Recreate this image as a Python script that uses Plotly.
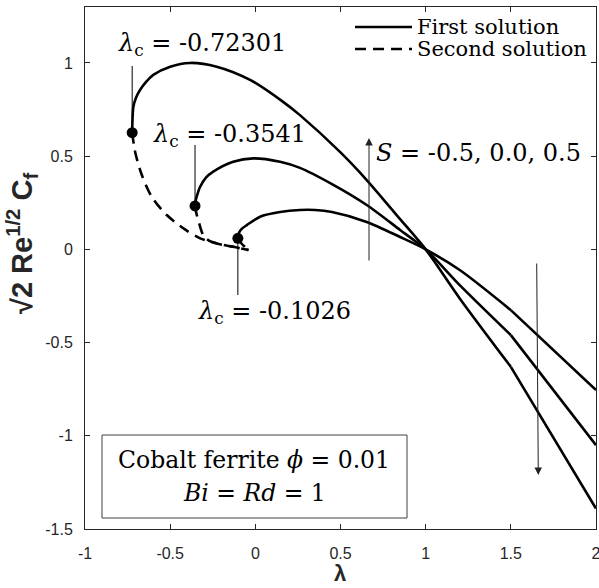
import plotly.graph_objects as go

# ---------------- data ----------------
# S = 0.5  (lambda_c = -0.72301)
lam_a1 = [-0.72301, -0.721, -0.716, -0.70, -0.677, -0.64, -0.599, -0.5, -0.383, -0.227,
          -0.031, 0.165, 0.262, 0.5, 0.654, 0.85, 1.0, 1.2, 1.5, 2.0]
cf_a1 = [0.626, 0.70, 0.765, 0.815, 0.855, 0.90, 0.936, 0.98, 1.0, 0.98,
         0.909, 0.79, 0.72, 0.52, 0.372, 0.162, 0.0, -0.263, -0.63, -1.39]
lam_a2 = [-0.72301, -0.706, -0.667, -0.608, -0.52, -0.413, -0.324, -0.22, -0.13, -0.04]
cf_a2 = [0.626, 0.524, 0.40, 0.282, 0.184, 0.107, 0.059, 0.03, 0.014, -0.004]

# S = 0.0  (lambda_c = -0.3541)
lam_b1 = [-0.3541, -0.348, -0.335, -0.324, -0.29, -0.247, -0.13, -0.012, 0.145, 0.262,
          0.45, 0.654, 0.85, 1.0, 1.2, 1.5, 2.0]
cf_b1 = [0.233, 0.27, 0.31, 0.336, 0.385, 0.417, 0.470, 0.488, 0.47, 0.437,
         0.35, 0.238, 0.104, 0.0, -0.192, -0.46, -1.05]
lam_b2 = [-0.3541, -0.345, -0.33, -0.305, -0.27, -0.22, -0.13, -0.04]
cf_b2 = [0.233, 0.19, 0.14, 0.075, 0.045, 0.03, 0.014, -0.004]

# S = -0.5 (lambda_c = -0.1026)
lam_c1 = [-0.1026, -0.095, -0.08, -0.05, 0.028, 0.145, 0.262, 0.35, 0.45, 0.654,
          0.85, 1.0, 1.2, 1.5, 2.0]
cf_c1 = [0.059, 0.09, 0.11, 0.13, 0.175, 0.20, 0.211, 0.211, 0.20, 0.147,
         0.066, 0.0, -0.111, -0.326, -0.755]
lam_c2 = [-0.1026, -0.08, -0.06, -0.04]
cf_c2 = [0.059, 0.03, 0.012, -0.004]

crit_lam = [-0.72301, -0.3541, -0.1026]
crit_cf = [0.626, 0.233, 0.059]
crit_labels = ["-0.72301", "-0.3541", "-0.1026"]

x_ticks = [-1, -0.5, 0, 0.5, 1, 1.5, 2]
x_ticklabels = ["-1", "-0.5", "0", "0.5", "1", "1.5", "2"]
y_ticks = [-1.5, -1, -0.5, 0, 0.5, 1]
y_ticklabels = ["-1.5", "-1", "-0.5", "0", "0.5", "1"]

# ---------------- layout helpers ----------------
W, H = 599, 588
ML, MR, MT, MB = 85, 3, 7, 59
PW, PH = W - ML - MR, H - MT - MB


def px(xp):
    return (xp - ML) / PW


def py(yp):
    return (H - MB - yp) / PH


def dxv(xp):
    return -1 + (xp - ML) / PW * 3


def dyv(yp):
    return 1.3 - (yp - MT) / PH * 2.8


SERIF = "DejaVu Serif"
SANS = "Liberation Sans"
AX = "#262626"
LW = 2.6
DASH = "11px,7px"

fig = go.Figure()


def add_first(lam, cf):
    # smooth part up to 1.5, straight segment afterwards
    k = lam.index(1.5)
    fig.add_trace(go.Scatter(x=lam[:k + 1], y=cf[:k + 1], mode="lines",
                             line=dict(color="black", width=LW, shape="spline", smoothing=0.8),
                             showlegend=False, hoverinfo="skip"))
    fig.add_trace(go.Scatter(x=lam[k:], y=cf[k:], mode="lines",
                             line=dict(color="black", width=LW),
                             showlegend=False, hoverinfo="skip"))


def add_second(lam, cf):
    fig.add_trace(go.Scatter(x=lam, y=cf, mode="lines",
                             line=dict(color="black", width=LW, dash=DASH, shape="spline", smoothing=0.8),
                             showlegend=False, hoverinfo="skip"))


for l1, c1, l2, c2 in [(lam_a1, cf_a1, lam_a2, cf_a2),
                       (lam_b1, cf_b1, lam_b2, cf_b2),
                       (lam_c1, cf_c1, lam_c2, cf_c2)]:
    add_second(l2, c2)
    add_first(l1, c1)

fig.add_trace(go.Scatter(x=crit_lam, y=crit_cf, mode="markers",
                         marker=dict(color="black", size=11),
                         showlegend=False, hoverinfo="skip"))

shapes = []
annotations = []

# leader lines from critical points to labels (end heights in pixels)
leader_end_px = [66, 145, 295]
for lc, cc, ye in zip(crit_lam, crit_cf, leader_end_px):
    shapes.append(dict(type="line", xref="x", yref="y", x0=lc, x1=lc, y0=cc,
                       y1=dyv(ye), line=dict(color="black", width=1)))

# lambda_c labels
label_pos = [(116, 44), (151, 135), (196, 312)]
for (lx, ly), txt in zip(label_pos, crit_labels):
    annotations.append(dict(xref="paper", yref="paper", x=px(lx), y=py(ly),
                            xanchor="left", yanchor="middle", showarrow=False,
                            text="<i>λ</i><sub>c</sub> = " + txt,
                            font=dict(family=SERIF, size=24, color="black")))

# S annotation and arrows
annotations.append(dict(xref="paper", yref="paper", x=px(374), y=py(153),
                        xanchor="left", yanchor="middle", showarrow=False,
                        text="<i>S</i> = -0.5, 0.0, 0.5",
                        font=dict(family=SERIF, size=24, color="black")))

for (x0, y0, x1, y1) in [(369, 262, 369, 138), (536.7, 262, 538.3, 475)]:
    annotations.append(dict(xref="x", yref="y", axref="x", ayref="y",
                            x=dxv(x1), y=dyv(y1), ax=dxv(x0), ay=dyv(y0),
                            text="", showarrow=True, arrowhead=2, arrowsize=1.5,
                            arrowwidth=1, arrowcolor="#222222", standoff=0))

# manual legend
shapes.append(dict(type="line", xref="paper", yref="paper", x0=px(355), x1=px(412),
                   y0=py(27), y1=py(27), line=dict(color="black", width=LW)))
shapes.append(dict(type="line", xref="paper", yref="paper", x0=px(355), x1=px(412),
                   y0=py(49), y1=py(49), line=dict(color="black", width=LW, dash=DASH)))
for txt, yy in [("First solution", 27), ("Second solution", 49)]:
    annotations.append(dict(xref="paper", yref="paper", x=px(415), y=py(yy),
                            xanchor="left", yanchor="middle", showarrow=False, text=txt,
                            font=dict(family=SERIF, size=21, color="black")))

# text box
shapes.append(dict(type="rect", xref="paper", yref="paper", x0=px(102), x1=px(407),
                   y0=py(518), y1=py(435), line=dict(color="#404040", width=1),
                   fillcolor="white", layer="above"))
annotations.append(dict(xref="paper", yref="paper", x=px(254), y=py(460),
                        xanchor="center", yanchor="middle", showarrow=False,
                        text="Cobalt ferrite <i>ϕ</i> = 0.01",
                        font=dict(family=SERIF, size=23.5, color="black")))
annotations.append(dict(xref="paper", yref="paper", x=px(254), y=py(493),
                        xanchor="center", yanchor="middle", showarrow=False,
                        text="<i>Bi</i> = <i>Rd</i> = 1",
                        font=dict(family=SERIF, size=23.5, color="black")))

# axis titles
annotations.append(dict(xref="paper", yref="paper", x=px(22), y=py(244),
                        xanchor="center", yanchor="middle", showarrow=False, textangle=-90,
                        text="<b>√2 Re<sup>1/2</sup> C<sub>f</sub></b>",
                        font=dict(family=SANS, size=29, color=AX)))
annotations.append(dict(xref="paper", yref="paper", x=px(340), y=py(573),
                        xanchor="center", yanchor="middle", showarrow=False,
                        text="<b>λ</b>",
                        font=dict(family=SANS, size=22, color=AX)))

axis_common = dict(showline=True, linecolor=AX, linewidth=1, mirror="ticks",
                   ticks="inside", ticklen=5, tickwidth=1, tickcolor=AX,
                   showgrid=False, zeroline=False, automargin=False,
                   tickfont=dict(family=SANS, size=16, color=AX))

fig.update_layout(
    width=W, height=H,
    margin=dict(l=ML, r=MR, t=MT, b=MB, autoexpand=False),
    paper_bgcolor="white", plot_bgcolor="white",
    xaxis=dict(range=[-1, 2], tickvals=x_ticks, ticktext=x_ticklabels,
               ticklabelstandoff=10, ticklabeloverflow="allow", **axis_common),
    yaxis=dict(range=[-1.5, 1.3], tickvals=y_ticks, ticktext=y_ticklabels,
               ticklabelstandoff=8, **axis_common),
    shapes=shapes, annotations=annotations, showlegend=False,
)

fig.write_html("out.html")
